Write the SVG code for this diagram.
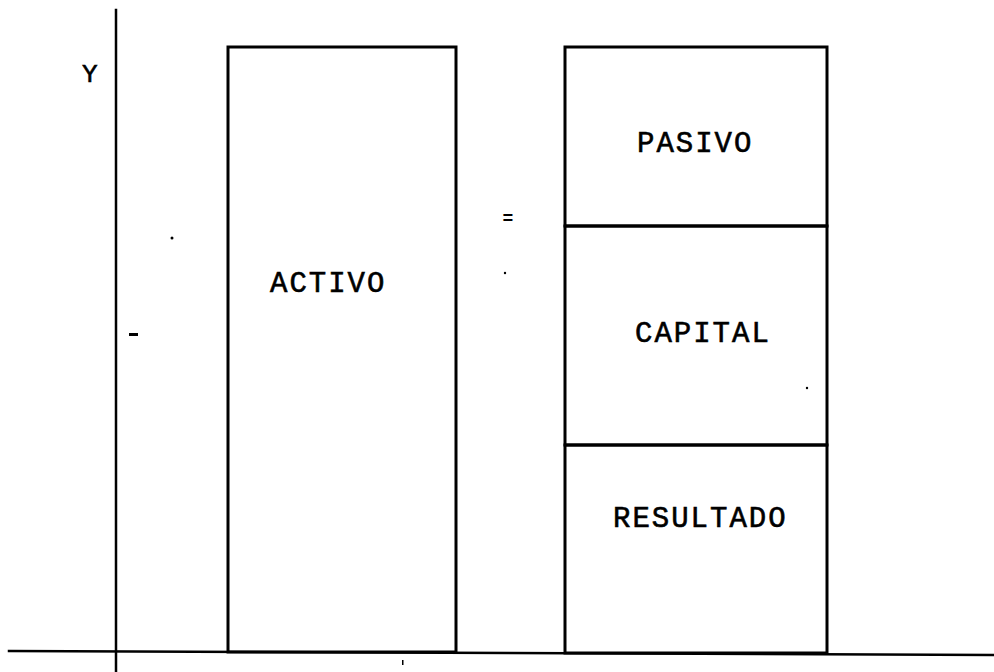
<svg xmlns="http://www.w3.org/2000/svg" width="994" height="672" viewBox="0 0 994 672">
<style>
  .ax { stroke: #000; stroke-width: 2.5; fill: none; stroke-linecap: square; }
  .bx { stroke: #000; stroke-width: 3; fill: none; }
  .dv { stroke: #000; stroke-width: 3; }
  .lbl { font-family: "Liberation Mono", "Courier New", monospace; font-size: 29px; letter-spacing: 2px; fill: #000; stroke: #000; stroke-width: 0.6; }
  .mk { fill: #000; }
</style>
<rect width="994" height="672" fill="#fff"/>
<g id="axes">
  <line class="ax" x1="116" y1="10" x2="116" y2="672"/>
  <line class="ax" x1="9" y1="651" x2="994" y2="655"/>
  <text class="lbl" x="82" y="82" style="font-size:26px;letter-spacing:0">Y</text>
</g>
<g id="activo">
  <rect class="bx" x="228" y="47" width="228" height="605"/>
  <text class="lbl" x="270" y="292">ACTIVO</text>
</g>
<g id="pasivo">
  <rect class="bx" x="565" y="47" width="262" height="179"/>
  <text class="lbl" x="637" y="152">PASIVO</text>
</g>
<g id="capital">
  <rect class="bx" x="565" y="226" width="262" height="219"/>
  <text class="lbl" x="635" y="342">CAPITAL</text>
</g>
<g id="resultado">
  <rect class="bx" x="565" y="445" width="262" height="208"/>
  <text class="lbl" x="613" y="527">RESULTADO</text>
</g>
<g id="marks">
  <text x="508" y="224" text-anchor="middle" style="font-family:'Liberation Mono',monospace;font-size:18px;font-weight:bold">=</text>
  <rect class="mk" x="129" y="333" width="9" height="3"/>
  <circle class="mk" cx="172" cy="238" r="1.5"/>
  <circle class="mk" cx="505" cy="273" r="1.2"/>
  <circle class="mk" cx="807" cy="388" r="1.2"/>
  <rect class="mk" x="402" y="660" width="1.5" height="5"/>
</g>
</svg>
